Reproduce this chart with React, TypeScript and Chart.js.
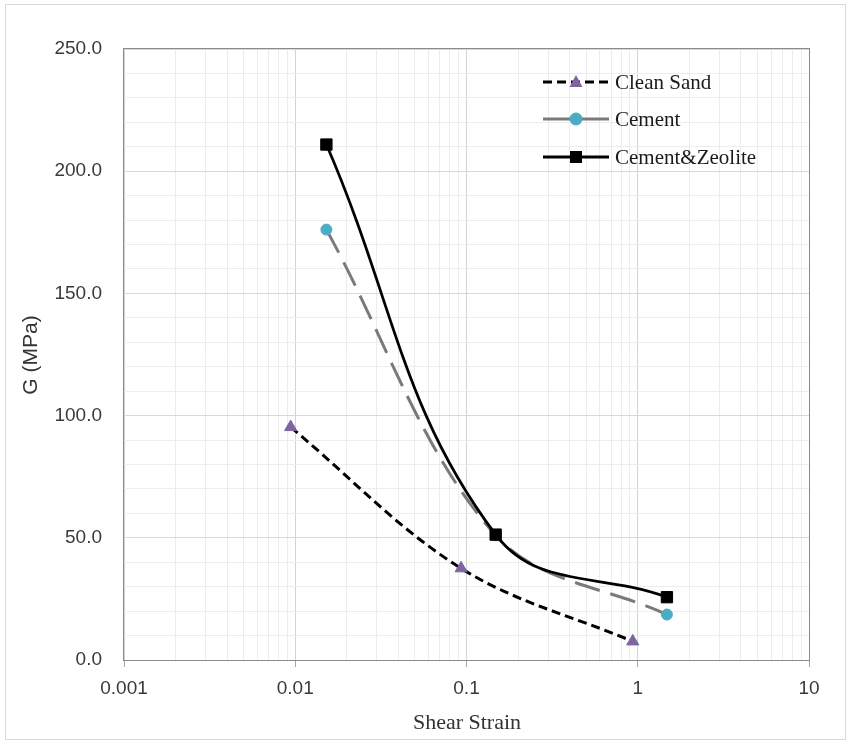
import React, { useEffect, useRef } from 'react';
import { Chart, registerables } from 'chart.js';

Chart.register(...registerables);

// ---- data ----
const seriesNames = ['Clean Sand', 'Cement', 'Cement&Zeolite'];
const cleanSandStrain = [0.0094, 0.093, 0.935];
const cleanSandG = [95.3, 37.5, 7.6];
const cementStrain = [0.0152, 0.148, 1.48];
const cementG = [176.1, 51.0, 18.6];
const zeoliteStrain = [0.0152, 0.148, 1.48];
const zeoliteG = [210.9, 51.3, 25.7];
const xTickLabels = ['0.001', '0.01', '0.1', '1', '10'];
const yTickLabels = ['0.0', '50.0', '100.0', '150.0', '200.0', '250.0'];
const xTitle = 'Shear Strain';
const yTitle = 'G (MPa)';

const toPoints = (xs: number[], ys: number[]) => xs.map((x, i) => ({ x, y: ys[i] }));

const isDecade = (v: number) => Math.abs(Math.log10(v) - Math.round(Math.log10(v))) < 1e-6;

export default function App() {
  const ref = useRef<HTMLCanvasElement>(null);

  useEffect(() => {
    const canvas = ref.current;
    if (!canvas) return;

    const decades = xTickLabels.map(Number);
    const xTicks: number[] = [];
    decades.forEach((d, i) => {
      xTicks.push(d);
      if (i < decades.length - 1) {
        for (let k = 2; k <= 9; k++) xTicks.push(Number((d * k).toPrecision(6)));
      }
    });

    const framePlugin = {
      id: 'frame',
      beforeDatasetsDraw(chart: any) {
        const { ctx, chartArea: a } = chart;
        ctx.save();
        ctx.strokeStyle = '#8a8a8a';
        ctx.lineWidth = 1;
        ctx.strokeRect(Math.round(a.left) - 0.5, Math.round(a.top) - 0.5, Math.round(a.right - a.left) + 1, Math.round(a.bottom - a.top) + 1);
        ctx.restore();
      },
      afterDraw(chart: any) {
        const { ctx } = chart;
        ctx.save();
        // outer border
        ctx.strokeStyle = '#d9d9d9';
        ctx.lineWidth = 1;
        ctx.strokeRect(5.5, 4.5, 840, 735);
        // axis titles
        ctx.fillStyle = '#333333';
        ctx.textAlign = 'center';
        ctx.textBaseline = 'middle';
        ctx.font = '22px "Liberation Serif"';
        ctx.fillText(xTitle, 467, 723);
        ctx.translate(31, 355);
        ctx.rotate(-Math.PI / 2);
        ctx.font = '21px "Liberation Sans"';
        ctx.fillText(yTitle, 0, 0);
        ctx.restore();

        // legend
        const rows = [82, 119, 157];
        const x0 = 543, x1 = 609, mx = 576, tx = 615;
        ctx.save();
        rows.forEach((y, i) => {
          ctx.beginPath();
          ctx.lineWidth = 3;
          ctx.strokeStyle = i === 1 ? '#7a7a7a' : '#000000';
          ctx.setLineDash(i === 0 ? [9, 5] : []);
          ctx.moveTo(x0, y);
          ctx.lineTo(x1, y);
          ctx.stroke();
          ctx.setLineDash([]);
          ctx.beginPath();
          if (i === 0) {
            ctx.fillStyle = '#8064a2';
            ctx.moveTo(mx, y - 7);
            ctx.lineTo(mx + 6.5, y + 5);
            ctx.lineTo(mx - 6.5, y + 5);
            ctx.closePath();
            ctx.fill();
          } else if (i === 1) {
            ctx.fillStyle = '#4bacc6';
            ctx.arc(mx, y, 6.5, 0, Math.PI * 2);
            ctx.fill();
          } else {
            ctx.fillStyle = '#000000';
            ctx.fillRect(mx - 6, y - 6, 12, 12);
          }
          ctx.fillStyle = '#1a1a1a';
          ctx.font = '21px "Liberation Serif"';
          ctx.textAlign = 'left';
          ctx.textBaseline = 'middle';
          ctx.fillText(seriesNames[i], tx, y + 1);
        });
        ctx.restore();
      },
    };

    const tickFont = { family: 'Liberation Sans', size: 19 };

    const chart = new Chart(canvas, {
      type: 'line',
      data: {
        datasets: [
          {
            label: seriesNames[0],
            data: toPoints(cleanSandStrain, cleanSandG),
            borderColor: '#000000',
            borderWidth: 3,
            borderDash: [9, 5],
            pointStyle: 'triangle',
            pointRadius: 7,
            pointBackgroundColor: '#8064a2',
            pointBorderColor: '#8064a2',
            pointBorderWidth: 1,
            tension: 0.35,
            fill: false,
            order: 2,
          },
          {
            label: seriesNames[1],
            data: toPoints(cementStrain, cementG),
            borderColor: '#7a7a7a',
            borderWidth: 3,
            borderDash: [26, 11],
            pointStyle: 'circle',
            pointRadius: 5.5,
            pointBackgroundColor: '#4bacc6',
            pointBorderColor: '#4bacc6',
            pointBorderWidth: 1,
            tension: 0.35,
            fill: false,
            order: 1,
          },
          {
            label: seriesNames[2],
            data: toPoints(zeoliteStrain, zeoliteG),
            borderColor: '#000000',
            borderWidth: 2.75,
            pointStyle: 'rect',
            pointRadius: 8,
            pointBackgroundColor: '#000000',
            pointBorderColor: '#000000',
            pointBorderWidth: 1,
            tension: 0.4,
            fill: false,
            order: 0,
          },
        ],
      } as any,
      options: {
        responsive: false,
        animation: false,
        parsing: false as any,
        layout: { padding: { left: 0, right: 41, top: 49, bottom: 0 } },
        plugins: {
          legend: { display: false },
          tooltip: { enabled: false },
        },
        scales: {
          x: {
            type: 'logarithmic',
            min: 0.001,
            max: 10,
            afterBuildTicks: (s: any) => {
              s.ticks = xTicks.map((v) => ({ value: v }));
            },
            afterFit: (s: any) => {
              s.height = 84;
            },
            border: { display: false },
            grid: {
              color: (c: any) => (c.tick && isDecade(c.tick.value) ? '#d4d4d4' : '#ececec'),
              tickColor: (c: any) => (c.tick && isDecade(c.tick.value) ? '#a6a6a6' : 'rgba(0,0,0,0)'),
              tickLength: 7,
              lineWidth: 1,
            },
            ticks: {
              autoSkip: false,
              maxRotation: 0,
              minRotation: 0,
              padding: 10,
              color: '#3a3a3a',
              font: tickFont,
              callback: (v: any) => {
                const idx = decades.findIndex((d) => Math.abs(d - Number(v)) < d * 1e-6);
                return idx >= 0 ? xTickLabels[idx] : '';
              },
            },
          },
          y: {
            type: 'linear',
            min: 0,
            max: 250,
            afterFit: (s: any) => {
              s.width = 124;
            },
            border: { display: false },
            grid: {
              drawTicks: false,
              color: (c: any) => (c.tick && Math.round(c.tick.value) % 50 === 0 ? '#d9d9d9' : '#ededed'),
              lineWidth: 1,
            },
            ticks: {
              stepSize: 10,
              autoSkip: false,
              padding: 22,
              color: '#3a3a3a',
              font: tickFont,
              callback: (v: any) => {
                const n = Number(v);
                if (Math.round(n) % 50 !== 0) return '';
                return yTickLabels[Math.round(n / 50)] ?? '';
              },
            },
          },
        },
      } as any,
      plugins: [framePlugin],
    });

    return () => chart.destroy();
  }, []);

  return (
    <div style={{ position: 'absolute', left: 0, top: 0, width: 850, height: 744 }}>
      <canvas ref={ref} width={850} height={744} style={{ display: 'block' }} />
    </div>
  );
}
